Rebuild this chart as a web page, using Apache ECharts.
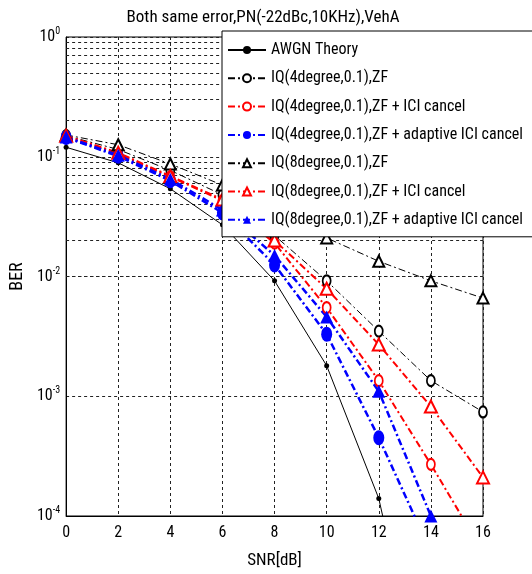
<!DOCTYPE html>
<html>
<head>
<meta charset="utf-8">
<script src="https://cdn.jsdelivr.net/npm/echarts@6/dist/echarts.min.js"></script>
<style>
  html, body { margin: 0; padding: 0; background: #fff; }
  #main { width: 532px; height: 574px; }
</style>
</head>
<body>
<div id="main"></div>
<script>
// SNR points in dB
const snr = [0, 2, 4, 6, 8, 10, 12, 14, 16]

// BER values (below 1e-4 is clipped by the axis)
const awgnTheory = [0.12, 0.089, 0.054, 0.027, 0.0092, 0.0018, 0.00014, 0.0000016, null]
const iq4Zf = [0.15, 0.115, 0.077, 0.048, 0.022, 0.0092, 0.0035, 0.00135, 0.00074]
const iq4Ici = [0.147, 0.106, 0.068, 0.043, 0.019, 0.0055, 0.00135, 0.00027, 0.00005]
const iq4Adaptive = [0.145, 0.101, 0.063, 0.034, 0.0125, 0.0033, 0.00045, 0.00005, 0.000005]
const iq8Zf = [0.152, 0.126, 0.087, 0.058, 0.034, 0.021, 0.0134, 0.0092, 0.0066]
const iq8Ici = [0.15, 0.108, 0.069, 0.044, 0.020, 0.0079, 0.0027, 0.00082, 0.00021]
const iq8Adaptive = [0.146, 0.103, 0.065, 0.036, 0.015, 0.0046, 0.0011, 0.0001, 0.000009]

const names = [
  'AWGN Theory',
  'IQ(4degree,0.1),ZF',
  'IQ(4degree,0.1),ZF + ICI cancel',
  'IQ(4degree,0.1),ZF + adaptive ICI cancel',
  'IQ(8degree,0.1),ZF',
  'IQ(8degree,0.1),ZF + ICI cancel',
  'IQ(8degree,0.1),ZF + adaptive ICI cancel'
]

// minor log grid lines 2..9 in each decade
const minorGrid = []
for (let e = -4; e < 0; e++) {
  for (let m = 2; m <= 9; m++) minorGrid.push(m * Math.pow(10, e))
}

const font = '"Roboto Condensed", "Liberation Sans", sans-serif'
const dashDot = [7, 3, 2, 3]

function pairs (ys) {
  return snr.map((x, i) => [x, ys[i]])
}

function mkSeries (name, ys, color, width, dash, symbol, size, border) {
  return {
    name: name,
    type: 'line',
    data: pairs(ys),
    symbol: symbol,
    symbolSize: size,
    showAllSymbol: true,
    connectNulls: false,
    clip: true,
    lineStyle: { color: color, width: width, type: dash },
    itemStyle: { color: color, borderColor: color, borderWidth: border },
    emphasis: { disabled: true }
  }
}

const chart = echarts.init(document.getElementById('main'), null, { renderer: 'canvas' })

const option = {
  backgroundColor: '#fff',
  animation: false,
  textStyle: { fontFamily: font },
  title: {
    text: 'Both same error,PN(-22dBc,10KHz),VehA',
    left: 258,
    textAlign: 'center',
    top: 4,
    textStyle: { fontFamily: font, fontSize: 17, fontWeight: 'normal', color: '#000' }
  },
  grid: {
    left: 47,
    right: 49,
    top: 37,
    bottom: 56,
    show: true,
    borderColor: '#000',
    borderWidth: 1,
    backgroundColor: 'transparent'
  },
  legend: {
    data: names,
    orient: 'vertical',
    left: 222,
    top: 31,
    z: 10,
    backgroundColor: '#fff',
    borderColor: '#000',
    borderWidth: 1,
    borderRadius: 0,
    padding: [11, 30, 9, 5],
    itemGap: 12.3,
    itemWidth: 38,
    itemHeight: 10,
    selectedMode: false,
    textStyle: { fontFamily: font, fontSize: 16, color: '#000' }
  },
  xAxis: {
    type: 'value',
    min: 0,
    max: 16,
    interval: 2,
    name: 'SNR[dB]',
    nameLocation: 'middle',
    nameGap: 36,
    nameTextStyle: { fontFamily: font, fontSize: 17, color: '#000' },
    axisLine: { lineStyle: { color: '#000', width: 1 } },
    axisTick: { show: false },
    axisLabel: { fontFamily: font, fontSize: 16, color: '#000', margin: 9 },
    splitLine: { show: true, lineStyle: { color: '#222', width: 1, type: [3, 3] } }
  },
  yAxis: {
    type: 'log',
    logBase: 10,
    min: 0.0001,
    max: 1,
    name: 'BER',
    nameLocation: 'middle',
    nameGap: 24,
    nameTextStyle: { fontFamily: font, fontSize: 18, color: '#000' },
    axisLine: { lineStyle: { color: '#000', width: 1 } },
    axisTick: { show: false },
    axisLabel: {
      margin: 6,
      formatter: function (v) {
        return '{b|10}{s|' + Math.round(Math.log10(v)) + '}'
      },
      rich: {
        b: { fontFamily: font, fontSize: 16, color: '#000' },
        s: { fontFamily: font, fontSize: 10, color: '#000', padding: [0, 0, 11, 0] }
      }
    },
    splitLine: { show: true, lineStyle: { color: '#222', width: 1, type: [3, 3] } }
  },
  series: [
    {
      name: 'minor-grid',
      type: 'line',
      data: [],
      silent: true,
      z: 1,
      markLine: {
        silent: true,
        z: 1,
        symbol: 'none',
        label: { show: false },
        animation: false,
        lineStyle: { color: '#222', width: 1, type: [3, 3] },
        emphasis: { disabled: true },
        data: minorGrid.map(v => ({ yAxis: v }))
      }
    },
    mkSeries(names[0], awgnTheory, '#000', 1, 'solid', 'circle', 5, 0),
    mkSeries(names[1], iq4Zf, '#000', 1, dashDot, 'emptyCircle', [8, 11], 1),
    mkSeries(names[2], iq4Ici, '#ff0000', 2, dashDot, 'emptyCircle', [8, 11], 2),
    mkSeries(names[3], iq4Adaptive, '#0000ff', 2.5, dashDot, 'circle', [11, 15], 0),
    mkSeries(names[4], iq8Zf, '#000', 1, dashDot, 'emptyTriangle', 11, 1),
    mkSeries(names[5], iq8Ici, '#ff0000', 2, dashDot, 'emptyTriangle', 12, 2),
    mkSeries(names[6], iq8Adaptive, '#0000ff', 2.5, dashDot, 'triangle', 13, 0)
  ]
}

chart.setOption(option)
</script>
</body>
</html>
